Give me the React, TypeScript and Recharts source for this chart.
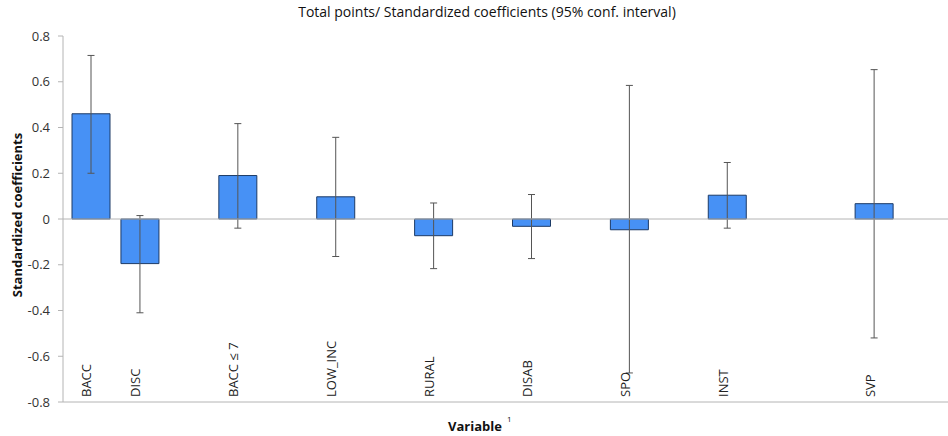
import { BarChart, Bar, XAxis, YAxis, ErrorBar, ReferenceLine } from 'recharts';

// one slot per category position; empty names are the gaps between variables
const categories = ['BACC', 'DISC', '', 'BACC ≤ 7', '', 'LOW_INC', '', 'RURAL', '', 'DISAB', '', 'SPO', '', 'INST', '', '', 'SVP', ''];
const coefficients = [0.46, -0.195, null, 0.19, null, 0.097, null, -0.073, null, -0.032, null, -0.047, null, 0.104, null, null, 0.067, null];
const ciLower = [0.2, -0.41, null, -0.04, null, -0.164, null, -0.217, null, -0.173, null, -0.673, null, -0.04, null, null, -0.52, null];
const ciUpper = [0.715, 0.015, null, 0.417, null, 0.357, null, 0.07, null, 0.107, null, 0.584, null, 0.247, null, null, 0.653, null];
const yTicks = [-0.8, -0.6, -0.4, -0.2, 0, 0.2, 0.4, 0.6, 0.8];

const data = categories.map((name, i) => {
  const v = coefficients[i];
  return {
    slot: i,
    name,
    value: v,
    err: v === null ? null : [v - (ciLower[i] as number), (ciUpper[i] as number) - v],
  };
});

const FONT = '"Open Sans", "Noto Sans", sans-serif';
const AXIS = '#b4b4b4';

function CategoryTick(props: any) {
  const { x, y, payload } = props;
  const label = categories[payload.index];
  if (!label) return null;
  return (
    <text
      x={x}
      y={y - 5}
      transform={`rotate(-90, ${x}, ${y - 5})`}
      textAnchor="start"
      fontFamily={FONT}
      fontSize={13}
      fill="#222"
    >
      {label}
    </text>
  );
}

export default function App() {
  return (
    <div style={{ position: 'absolute', left: 0, top: 0, width: 948, height: 436, background: '#fff', fontFamily: FONT }}>
      <div style={{ position: 'absolute', left: 0, width: 974, top: 2, textAlign: 'center', fontSize: 14, color: '#111' }}>
        Total points/ Standardized coefficients (95% conf. interval)
      </div>
      <div
        style={{
          position: 'absolute', left: 17, top: 215, transform: 'translate(-50%, -50%) rotate(-90deg)',
          whiteSpace: 'nowrap', fontSize: 13, fontWeight: 700, color: '#111',
        }}
      >
        Standardized coefficients
      </div>
      <div style={{ position: 'absolute', left: 448, top: 417, fontSize: 13, fontWeight: 700, color: '#111', whiteSpace: 'nowrap' }}>
        Variable<sup style={{ fontSize: 8, fontWeight: 400, marginLeft: 5, position: 'relative', top: -4 }}>1</sup>
      </div>
      <BarChart
        width={948}
        height={436}
        data={data}
        margin={{ top: 36, right: 0, bottom: 0, left: 0 }}
        barSize={38}
      >
        <XAxis
          dataKey="slot"
          height={34}
          padding={{ left: 4, right: 0 }}
          axisLine={{ stroke: AXIS }}
          tickLine={false}
          tickSize={0}
          tickMargin={0}
          interval={0}
          tick={<CategoryTick />}
        />
        <YAxis
          width={63}
          domain={[-0.8, 0.8]}
          ticks={yTicks}
          interval={0}
          axisLine={{ stroke: AXIS }}
          tickLine={{ stroke: AXIS }}
          tickSize={5}
          tickMargin={8}
          tickFormatter={(v: number) => (v === 0 ? '0' : v.toFixed(1))}
          tick={{ fill: '#333', fontSize: 13, fontFamily: FONT }}
        />
        <Bar dataKey="value" fill="#4791f5" stroke="#1c3a66" strokeWidth={1} isAnimationActive={false}>
          <ErrorBar dataKey="err" width={3.5} stroke="#555" strokeWidth={1} direction="y" />
        </Bar>
        <ReferenceLine y={0} stroke={AXIS} strokeWidth={1} />
      </BarChart>
    </div>
  );
}
